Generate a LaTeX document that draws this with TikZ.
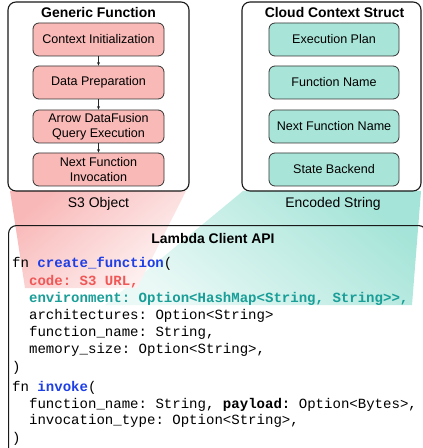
\documentclass[tikz,border=0pt]{standalone}
\usepackage{fontspec}
\setmainfont{Liberation Sans}
\setmonofont{Liberation Mono}
\usetikzlibrary{arrows.meta}
\definecolor{pinkfill}{HTML}{F9B9B7}
\definecolor{tealfill}{HTML}{A8E5D8}
\definecolor{fnblue}{HTML}{1E3FE6}
\definecolor{codered}{HTML}{F05858}
\definecolor{codeteal}{HTML}{199E98}
\definecolor{pinkbeam}{HTML}{F9B8B8}
\definecolor{tealbeam}{HTML}{A5E4D8}
\begin{document}
\begin{tikzpicture}[x=1bp,y=-1bp,
  outerbox/.style={draw=black!90, line width=1.1bp, rounded corners=8bp, inner sep=0},
  pinkbox/.style={draw=black!80, fill=pinkfill, line width=0.8bp, rounded corners=6bp,
    minimum width=131bp, minimum height=33bp, inner sep=0, align=center,
    font=\fontsize{12.6}{14.6}\selectfont},
  tealbox/.style={pinkbox, fill=tealfill, minimum width=130bp},
  titletext/.style={font=\fontsize{14}{16}\selectfont\bfseries, inner sep=0},
  labeltext/.style={font=\fontsize{14}{16}\selectfont, inner sep=0},
  codetext/.style={font=\fontsize{14.1}{16}\selectfont\ttfamily, anchor=base west, inner sep=0},
  flow/.style={draw=black!85, line width=0.6bp, -{Stealth[length=3.5bp,width=3bp]}}
]
\useasboundingbox (0,0) rectangle (422,448);

% beams
\shade[top color=tealbeam, bottom color=tealbeam!22, shading angle=-40]
  (243,191) -- (421,191) -- (412,305) -- (105,305) -- cycle;
\shade[top color=pinkbeam, bottom color=pinkbeam!15, shading angle=40]
  (10,191) -- (186,191) -- (137,288) -- (25,288) -- cycle;

% left group
\node[outerbox, minimum width=181bp, minimum height=189bp] (gf) at (98.5,96.5) {};
\node[titletext] (gft) at (98.5,12.5) {Generic Function};
\node[pinkbox] (ci) at (98.5,39.5) {Context Initialization};
\node[pinkbox] (dp) at (98.5,82.5) {Data Preparation};
\node[pinkbox] (qe) at (98.5,126.5) {Arrow DataFusion\\Query Execution};
\node[pinkbox] (nf) at (98.5,169.5) {Next Function\\Invocation};
\draw[flow] (ci) -- (dp);
\draw[flow] (dp) -- (qe);
\draw[flow] (qe) -- (nf);
\node[labeltext] (s3) at (98.5,203.5) {S3 Object};

% right group
\node[outerbox, minimum width=179bp, minimum height=189bp] (cc) at (331.5,96.5) {};
\node[titletext] (cct) at (334.5,12.5) {Cloud Context Struct};
\node[tealbox] (ep) at (334,39.5) {Execution Plan};
\node[tealbox] (fn) at (334,82.5) {Function Name};
\node[tealbox] (nfn) at (334,126.5) {Next Function Name};
\node[tealbox] (sb) at (334,169.5) {State Backend};
\node[labeltext] (es) at (333,203.5) {Encoded String};

% lambda client api
\node[outerbox, anchor=north west, minimum width=418bp, minimum height=232bp] (lam) at (8,225) {};
\node[titletext] (lamt) at (213,238.5) {Lambda Client API};

\node[codetext] (l1) at (12,267.5) {fn \textcolor{fnblue}{\bfseries create\_function}(};
\node[codetext] (l2) at (28.9,285) {\textcolor{codered}{\bfseries code: S3 URL,}};
\node[codetext] (l3) at (28.9,302.5) {\textcolor{codeteal}{\bfseries environment: Option<HashMap<String, String>>,}};
\node[codetext] (l4) at (28.9,319.5) {architectures: Option<String>};
\node[codetext] (l5) at (28.9,336.5) {function\_name: String,};
\node[codetext] (l6) at (28.9,353.5) {memory\_size: Option<String>,};
\node[codetext] (l7) at (12,371) {)};
\node[codetext] (l8) at (12,391.5) {fn \textcolor{fnblue}{\bfseries invoke}(};
\node[codetext] (l9) at (28.9,408) {function\_name: String, {\bfseries payload:} Option<Bytes>,};
\node[codetext] (l10) at (28.9,424.5) {invocation\_type: Option<String>,};
\node[codetext] (l11) at (12,442.5) {)};
\end{tikzpicture}
\end{document}
